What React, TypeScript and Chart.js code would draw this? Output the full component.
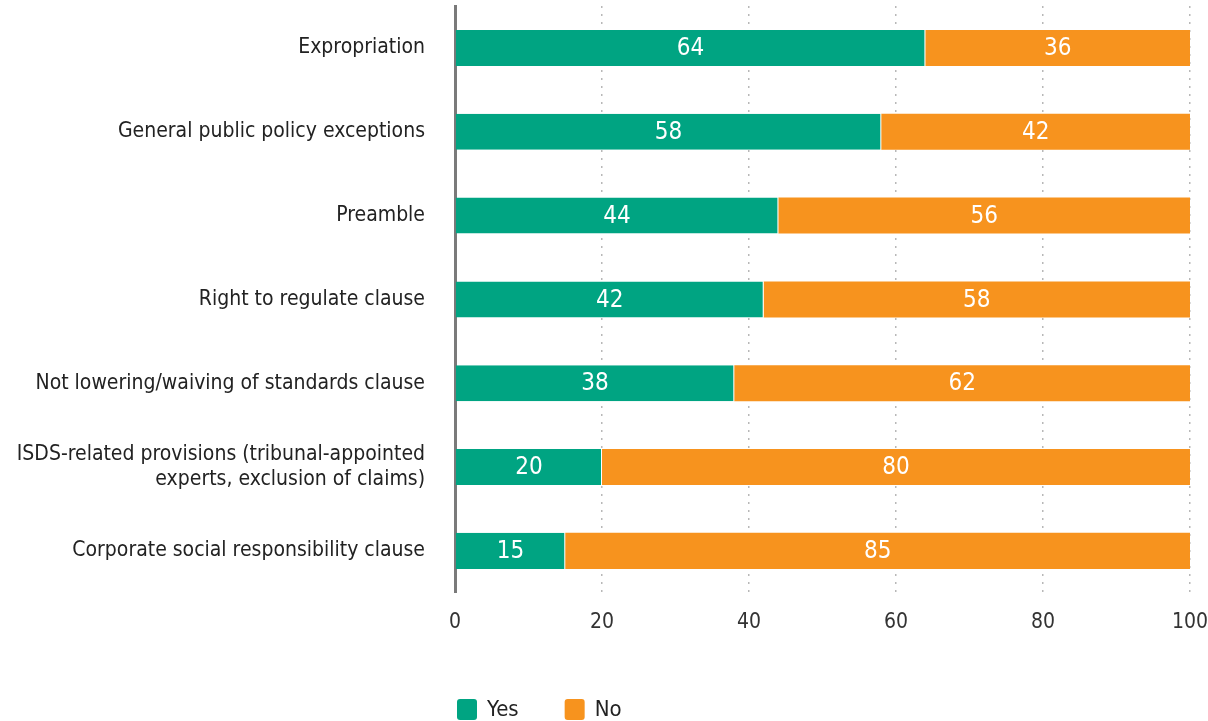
import React, { useEffect, useRef } from "react";
import { Chart, registerables } from "chart.js";

Chart.register(...registerables);

const categories: (string | string[])[] = [
  "Expropriation",
  "General public policy exceptions",
  "Preamble",
  "Right to regulate clause",
  "Not lowering/waiving of standards clause",
  ["ISDS-related provisions (tribunal-appointed", "experts, exclusion of claims)"],
  "Corporate social responsibility clause",
];
const yesValues = [64, 58, 44, 42, 38, 20, 15];
const noValues = [36, 42, 56, 58, 62, 80, 85];
const seriesNames = ["Yes", "No"];
const seriesColors = ["#00a482", "#f7931e"];
const xTicks = [0, 20, 40, 60, 80, 100];

const FONT = "'Liberation Sans Narrow', 'DejaVu Sans Condensed', 'Roboto Condensed', sans-serif";

const valueLabels = {
  id: "valueLabels",
  afterDatasetsDraw(chart: any) {
    const ctx = chart.ctx;
    ctx.save();
    ctx.fillStyle = "#ffffff";
    ctx.font = `24px ${FONT}`;
    ctx.textAlign = "center";
    ctx.textBaseline = "middle";
    chart.data.datasets.forEach((ds: any, i: number) => {
      const meta = chart.getDatasetMeta(i);
      meta.data.forEach((bar: any, j: number) => {
        const p = bar.getProps(["x", "y", "base"], true);
        const cx = (p.x + p.base) / 2;
        ctx.fillText(String(ds.data[j]), cx, p.y + 1);
      });
    });
    ctx.restore();
  },
};

const customLegend = {
  id: "customLegend",
  afterDraw(chart: any) {
    const ctx = chart.ctx;
    const area = chart.chartArea;
    ctx.save();
    ctx.font = `22px ${FONT}`;
    ctx.textBaseline = "middle";
    ctx.textAlign = "left";
    let x = area.left + 2;
    const cy = chart.height - 12;
    chart.data.datasets.forEach((ds: any) => {
      ctx.fillStyle = ds.backgroundColor;
      ctx.beginPath();
      (ctx as any).roundRect(x, cy - 10, 20, 21, 3);
      ctx.fill();
      ctx.fillStyle = "#222222";
      ctx.fillText(ds.label, x + 30, cy + 1);
      const w = ctx.measureText(ds.label).width;
      x += 30 + w + 46;
    });
    ctx.restore();
  },
};

export default function App() {
  const ref = useRef<HTMLCanvasElement | null>(null);
  useEffect(() => {
    document.body.style.margin = "0";
    const canvas = ref.current;
    if (!canvas) return;
    const chart = new Chart(canvas, {
      type: "bar",
      data: {
        labels: categories,
        datasets: [
          {
            label: seriesNames[0],
            data: yesValues,
            backgroundColor: seriesColors[0],
            borderColor: "#ffffff",
            borderWidth: { right: 1 },
            borderSkipped: false,
            categoryPercentage: 1,
            barPercentage: 0.43,
          },
          {
            label: seriesNames[1],
            data: noValues,
            backgroundColor: seriesColors[1],
            borderWidth: 0,
            categoryPercentage: 1,
            barPercentage: 0.43,
          },
        ],
      },
      options: {
        indexAxis: "y",
        animation: false,
        responsive: false,
        maintainAspectRatio: false,
        layout: { padding: { top: 6, right: 18, bottom: 69, left: 0 } },
        plugins: {
          legend: { display: false },
          tooltip: { enabled: false },
        },
        scales: {
          x: {
            stacked: true,
            min: 0,
            max: 100,
            afterBuildTicks(scale: any) {
              scale.ticks = xTicks.map((v) => ({ value: v }));
            },
            afterFit(scale: any) {
              scale.paddingLeft = 0;
              scale.paddingRight = 0;
            },
            grid: {
              drawTicks: false,
              color: (c: any) => (c.tick && c.tick.value === 0 ? "rgba(0,0,0,0)" : "#b8b8b8"),
              lineWidth: 1.5,
            },
            border: { display: false, dash: [2, 6] },
            ticks: {
              padding: 17,
              color: "#333333",
              font: { family: FONT, size: 21 },
            },
          },
          y: {
            stacked: true,
            afterFit(scale: any) {
              scale.width = 455;
              scale.paddingTop = 0;
              scale.paddingBottom = 0;
            },
            grid: { display: false, drawTicks: false },
            border: { display: true, color: "#7a7a7a", width: 3 },
            ticks: {
              padding: 30,
              color: "#222222",
              font: { family: FONT, size: 21, lineHeight: 1.2 },
            },
          },
        },
      },
      plugins: [valueLabels, customLegend],
    });
    return () => chart.destroy();
  }, []);
  return (
    <div style={{ width: 1208, height: 721 }}>
      <canvas ref={ref} width={1208} height={721} style={{ width: 1208, height: 721, display: "block" }} />
    </div>
  );
}
